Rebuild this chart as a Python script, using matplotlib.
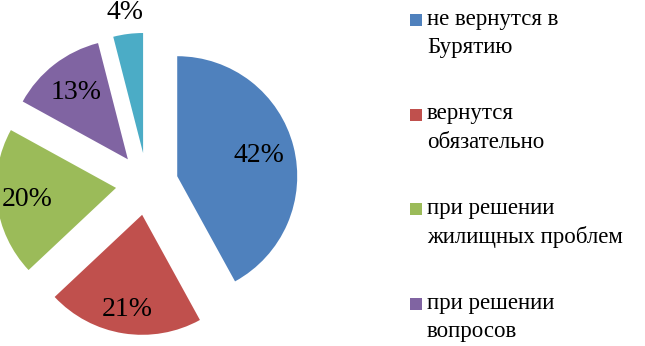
import numpy as np
import matplotlib.pyplot as plt
from matplotlib.patches import Rectangle

FONT = 'Liberation Serif'
plt.rcParams['font.family'] = 'serif'
plt.rcParams['font.serif'] = [FONT]

values = [42, 21, 20, 13, 4]
labels = ['не вернутся в\nБурятию', 'вернутся\nобязательно',
          'при решении\nжилищных проблем', 'при решении\nвопросов']
colors = ['#4F81BD', '#C0504D', '#9BBB59', '#8064A2', '#4BACC6']

fig = plt.figure(figsize=(6.45, 3.46), dpi=100)
ax = fig.add_axes([0, 0, 1, 1])
explode = 0.26
wedges, texts, autotexts = ax.pie(values, colors=colors, startangle=90, counterclock=False,
                                  explode=[explode] * len(values), autopct='%.0f%%',
                                  pctdistance=0.72, wedgeprops=dict(linewidth=0),
                                  textprops=dict(fontsize=20, color='black', family=FONT))

# excel "best fit" label placement, last (small) slice goes outside
label_dist = [0.70, 0.80, 0.75, 0.70, 1.18]
for w, t, d in zip(wedges, autotexts, label_dist):
    th = np.deg2rad((w.theta1 + w.theta2) / 2)
    t.set_position(((d + explode) * np.cos(th), (d + explode) * np.sin(th)))

ax.set_xlim(-1.225, 4.15)
ax.set_ylim(-1.35, 1.533)
ax.set_aspect('auto')
ax.axis('off')

# legend drawn by hand (excel puts the marker at the first line); 5th entry is cut off
W, H = 645, 346
for i, lab in enumerate(labels):
    base = 25 + 94.5 * i
    fig.patches.append(Rectangle((410 / W, 1 - (base + 1) / H), 12 / W, 12 / H,
                                 transform=fig.transFigure, facecolor=colors[i], lw=0))
    for j, line in enumerate(lab.split('\n')):
        fig.text(427 / W, 1 - (base + 28.5 * j) / H, line, fontsize=16.5,
                 family=FONT, va='baseline', ha='left')

plt.savefig('out.png', dpi=100)
